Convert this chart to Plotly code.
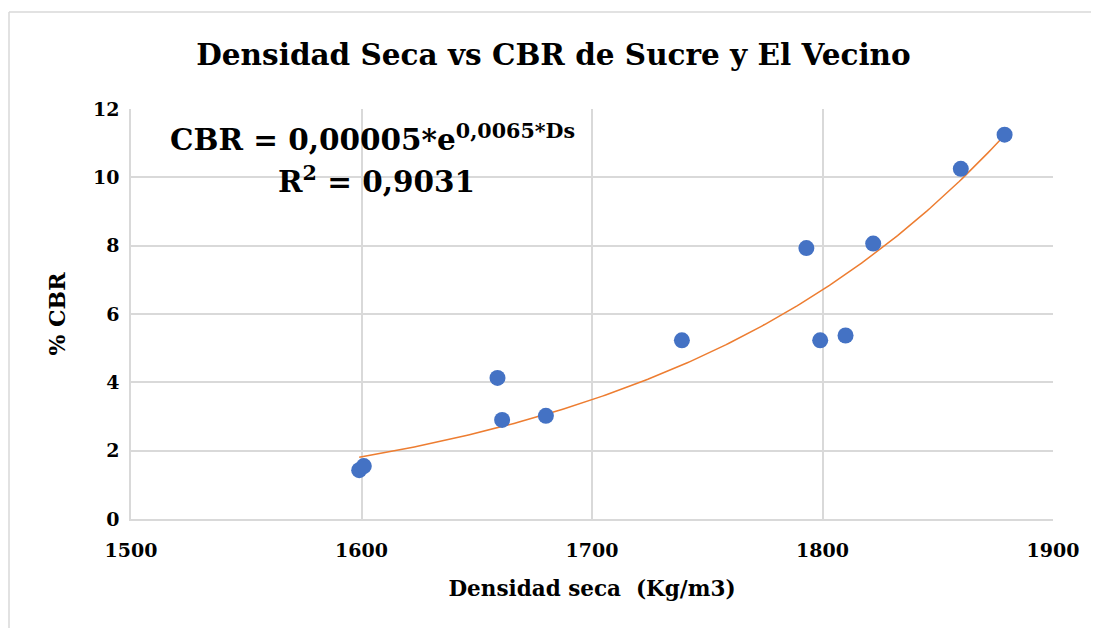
import numpy as np
import plotly.graph_objects as go

# Data
densidad = [1599, 1601, 1659, 1661, 1680, 1739, 1793, 1799, 1810, 1822, 1860, 1879]
cbr = [1.43, 1.55, 4.13, 2.90, 3.02, 5.23, 7.93, 5.23, 5.37, 8.06, 10.25, 11.25]

x_ticks = [1500, 1600, 1700, 1800, 1900]
y_ticks = [0, 2, 4, 6, 8, 10, 12]

title_text = "Densidad Seca vs CBR de Sucre y El Vecino"
x_title = "Densidad seca  (Kg/m3)"
y_title = "% CBR"
eq_line1 = "CBR = 0,00005*e<sup>0,0065*Ds</sup>"
eq_line2 = "R<sup>2</sup> = 0,9031"

# Exponential trendline (log-linear least squares, like Excel)
xa = np.array(densidad, dtype=float)
ya = np.array(cbr, dtype=float)
b, ln_a = np.polyfit(xa, np.log(ya), 1)
xt = np.linspace(xa.min(), xa.max(), 200)
yt = np.exp(ln_a) * np.exp(b * xt)

FONT = "DejaVu Serif"
GRID = "#d9d9d9"

fig = go.Figure()
fig.add_trace(go.Scatter(x=xt, y=yt, mode="lines",
                         line=dict(color="#ED7D31", width=1.5),
                         hoverinfo="skip", showlegend=False))
fig.add_trace(go.Scatter(x=densidad, y=cbr, mode="markers",
                         marker=dict(color="#4472C4", size=16),
                         showlegend=False))

OFF = 8  # page body margin
W, H = 1099 - OFF, 628 - OFF
L, R, T, B = 131 - OFF, 46, 109 - OFF, 109
pw, ph = W - L - R, H - T - B

def px_x(x):
    return (x - OFF - L) / pw

def px_y(y):
    return (519 - y) / ph

fig.update_layout(
    width=W, height=H,
    margin=dict(l=L, r=R, t=T, b=B),
    paper_bgcolor="white", plot_bgcolor="white",
    font=dict(family=FONT, color="black"),
    title=dict(text="<b>" + title_text + "</b>", x=0.5, xanchor="center",
               y=1 - (55 - OFF) / H, yanchor="middle",
               font=dict(size=29.5, family=FONT, color="black")),
    xaxis=dict(range=[1500, 1900], tickvals=x_ticks, ticktext=[f"<b>{v}</b>" for v in x_ticks],
               showgrid=True, gridcolor=GRID, gridwidth=1.5,
               showline=True, linecolor=GRID, linewidth=1.5, mirror=False,
               zeroline=False, ticks="", ticklabelstandoff=13,
               tickfont=dict(size=19, family=FONT),
               title=dict(text="<b>" + x_title + "</b>", font=dict(size=21.5, family=FONT), standoff=21)),
    yaxis=dict(range=[0, 12], tickvals=y_ticks, ticktext=[f"<b>{v}</b>" for v in y_ticks],
               showgrid=True, gridcolor=GRID, gridwidth=1.5,
               showline=True, linecolor=GRID, linewidth=1.5,
               zeroline=False, ticks="", ticklabelstandoff=6,
               tickfont=dict(size=19, family=FONT),
               title=dict(text="<b>" + y_title + "</b>", font=dict(size=22, family=FONT), standoff=21)),
)

# Equation annotations
fig.add_annotation(x=px_x(372), y=px_y(138), xref="paper", yref="paper",
                   text="<b>" + eq_line1 + "</b>", showarrow=False,
                   font=dict(size=29.5, family=FONT, color="black"), xanchor="center", yanchor="middle")
fig.add_annotation(x=px_x(376), y=px_y(180), xref="paper", yref="paper",
                   text="<b>" + eq_line2 + "</b>", showarrow=False,
                   font=dict(size=29.5, family=FONT, color="black"), xanchor="center", yanchor="middle")

# Chart-area frame (partially cropped in reference)
fx0 = px_x(9)
fy0 = px_y(12)
fig.add_shape(type="line", xref="paper", yref="paper", x0=fx0, x1=px_x(1110), y0=fy0, y1=fy0,
              line=dict(color=GRID, width=1.5))
fig.add_shape(type="line", xref="paper", yref="paper", x0=fx0, x1=fx0, y0=fy0, y1=px_y(640),
              line=dict(color=GRID, width=1.5))

fig.write_html("out.html")
